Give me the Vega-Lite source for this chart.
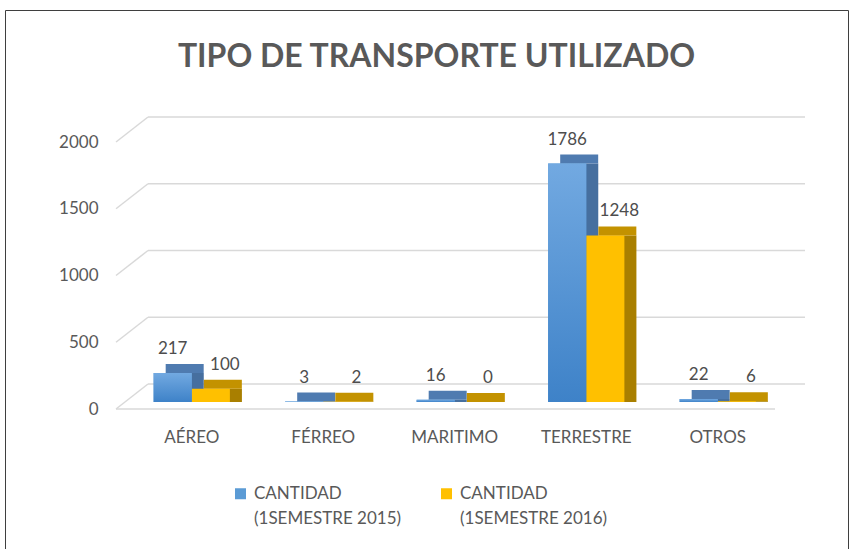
{
  "$schema": "https://vega.github.io/schema/vega-lite/v6.json",
  "width": 843,
  "height": 539,
  "autosize": {"type": "none"},
  "padding": {"left": 5, "top": 10, "right": 5, "bottom": 0},
  "background": "white",
  "config": {"view": {"stroke": "#3f3f3f", "strokeWidth": 1}, "font": "Lato"},
  "title": {"text": "TIPO DE TRANSPORTE UTILIZADO", "fontSize": 32, "fontWeight": "bold", "color": "#595959", "font": "Lato", "anchor": "middle", "frame": "group", "baseline": "alphabetic", "offset": 0, "dy": 89, "dx": 10},
  "datasets": {
    "bars": [
      {"tipo": "AÉREO", "serie": "CANTIDAD (1SEMESTRE 2015)", "valor": 217},
      {"tipo": "AÉREO", "serie": "CANTIDAD (1SEMESTRE 2016)", "valor": 100},
      {"tipo": "FÉRREO", "serie": "CANTIDAD (1SEMESTRE 2015)", "valor": 3},
      {"tipo": "FÉRREO", "serie": "CANTIDAD (1SEMESTRE 2016)", "valor": 2},
      {"tipo": "MARITIMO", "serie": "CANTIDAD (1SEMESTRE 2015)", "valor": 16},
      {"tipo": "MARITIMO", "serie": "CANTIDAD (1SEMESTRE 2016)", "valor": 0},
      {"tipo": "TERRESTRE", "serie": "CANTIDAD (1SEMESTRE 2015)", "valor": 1786},
      {"tipo": "TERRESTRE", "serie": "CANTIDAD (1SEMESTRE 2016)", "valor": 1248},
      {"tipo": "OTROS", "serie": "CANTIDAD (1SEMESTRE 2015)", "valor": 22},
      {"tipo": "OTROS", "serie": "CANTIDAD (1SEMESTRE 2016)", "valor": 6}
    ],
    "grid": [{"valor": 0}, {"valor": 500}, {"valor": 1000}, {"valor": 1500}, {"valor": 2000}]
  },
  "data": {"name": "bars"},
  "resolve": {"scale": {"xOffset": "independent"}},
  "encoding": {
    "x": {
      "field": "tipo", "type": "nominal",
      "sort": ["AÉREO", "FÉRREO", "MARITIMO", "TERRESTRE", "OTROS"],
      "scale": {"range": [121, 778.5], "paddingInner": 0.42, "paddingOuter": 0.21},
      "axis": {
        "title": null, "domain": false, "ticks": false, "labelAngle": 0,
        "labelFontSize": 17, "labelColor": "#595959", "labelFont": "Lato",
        "offset": -122, "labelPadding": 2, "labelBaseline": "top",
        "encode": {"labels": {"update": {"dx": {"signal": "indexof(['AÉREO','FÉRREO','MARITIMO','TERRESTRE','OTROS'], datum.value) * -7 - 12"}}}}
      }
    },
    "y": {
      "field": "valor", "type": "quantitative",
      "scale": {"domain": [0, 2000], "range": [392, 125], "nice": false, "zero": true},
      "axis": {
        "title": null, "domain": false, "ticks": false, "grid": false, "format": "d",
        "values": [0, 500, 1000, 1500, 2000], "labelOverlap": false,
        "labelFontSize": 17, "labelColor": "#595959", "labelFont": "Lato",
        "labelPadding": 2, "offset": -95, "labelOffset": 7
      }
    }
  },
  "layer": [
    {
      "data": {"name": "grid"},
      "mark": {"type": "rule", "color": "#d9d9d9", "strokeWidth": 1.5, "xOffset": -43.75, "x2Offset": 87.25, "yOffset": -18},
      "encoding": {"x": {"datum": "AÉREO"}, "x2": {"datum": "OTROS"}}
    },
    {
      "data": {"name": "grid"},
      "mark": {"type": "rule", "color": "#d9d9d9", "strokeWidth": 1.5, "xOffset": -75.75, "x2Offset": -43.75, "yOffset": 7, "y2Offset": -18},
      "encoding": {"x": {"datum": "AÉREO"}, "x2": {"datum": "AÉREO"}, "y2": {"field": "valor"}}
    },
    {
      "data": {"values": [{"valor": 0}]},
      "mark": {"type": "rule", "color": "#d9d9d9", "strokeWidth": 1.5, "xOffset": -75.75, "x2Offset": 57.25, "yOffset": 7},
      "encoding": {"x": {"datum": "AÉREO"}, "x2": {"datum": "OTROS"}}
    },
    {
      "layer": [
        {
          "transform": [{"filter": "datum.serie == 'CANTIDAD (1SEMESTRE 2015)'"}],
          "mark": {"type": "bar", "color": "#466f9f"}
        },
        {
          "transform": [{"filter": "datum.serie == 'CANTIDAD (1SEMESTRE 2015)'"}],
          "mark": {"type": "tick", "color": "#4f7bb0", "thickness": 9, "size": 38, "yOffset": -4.5, "opacity": 1}
        },
        {
          "transform": [{"filter": "datum.serie == 'CANTIDAD (1SEMESTRE 2016)'"}],
          "mark": {"type": "bar", "color": "#a97f00"}
        },
        {
          "transform": [{"filter": "datum.serie == 'CANTIDAD (1SEMESTRE 2016)'"}],
          "mark": {"type": "tick", "color": "#c39200", "thickness": 9, "size": 38, "yOffset": -4.5, "opacity": 1}
        }
      ],
      "encoding": {
        "xOffset": {"field": "serie", "type": "nominal", "sort": ["CANTIDAD (1SEMESTRE 2015)", "CANTIDAD (1SEMESTRE 2016)"], "scale": {"domain": ["CANTIDAD (1SEMESTRE 2015)", "CANTIDAD (1SEMESTRE 2016)"], "range": [12, 88.3], "paddingInner": 0, "paddingOuter": 0}}
      }
    },
    {
      "layer": [
        {
          "mark": {"type": "bar"},
          "encoding": {
            "color": {
              "field": "serie", "type": "nominal",
              "scale": {"range": ["#5b9bd5", "#ffc000"]},
              "legend": {
                "title": null, "orient": "none", "legendX": 227, "legendY": 475,
                "direction": "horizontal", "symbolType": "square", "symbolSize": 121, "symbolStrokeWidth": 0,
                "labelFontSize": 17, "labelColor": "#595959", "labelFont": "Lato", "labelLimit": 300,
                "columnPadding": 36, "labelOffset": 5,
                "labelExpr": "[slice(datum.label, 0, 8), slice(datum.label, 8)]",
                "encode": {"labels": {"update": {"lineHeight": {"value": 25}}}}
              }
            }
          }
        },
        {
          "transform": [{"filter": "datum.serie == 'CANTIDAD (1SEMESTRE 2015)'"}],
          "mark": {
            "type": "bar",
            "color": {"gradient": "linear", "x1": 0, "y1": 0, "x2": 0, "y2": 1, "stops": [{"offset": 0, "color": "#72a9e1"}, {"offset": 1, "color": "#3e82c8"}]}
          }
        },
        {
          "transform": [{"filter": "datum.serie == 'CANTIDAD (1SEMESTRE 2015)'"}],
          "mark": {"type": "text", "fontSize": 17, "color": "#4d4d4d", "font": "Lato", "baseline": "middle", "dy": -24, "dx": 0},
          "encoding": {"text": {"field": "valor", "type": "quantitative"}}
        },
        {
          "transform": [{"filter": "datum.serie == 'CANTIDAD (1SEMESTRE 2016)'"}],
          "mark": {"type": "text", "fontSize": 17, "color": "#4d4d4d", "font": "Lato", "baseline": "middle", "dy": -24, "dx": 14},
          "encoding": {"text": {"field": "valor", "type": "quantitative"}}
        }
      ],
      "encoding": {
        "xOffset": {"field": "serie", "type": "nominal", "sort": ["CANTIDAD (1SEMESTRE 2015)", "CANTIDAD (1SEMESTRE 2016)"], "scale": {"paddingInner": 0, "paddingOuter": 0}}
      }
    }
  ]
}
